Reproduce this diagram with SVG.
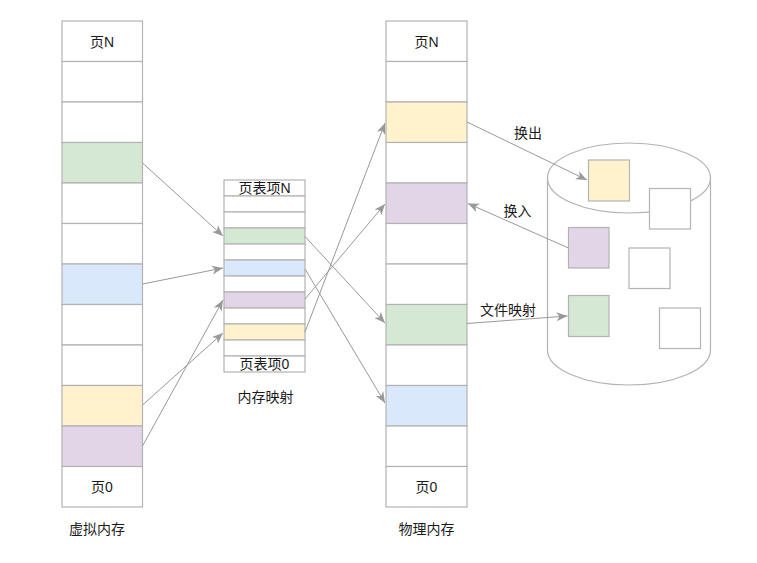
<svg xmlns="http://www.w3.org/2000/svg" width="757" height="563" viewBox="0 0 757 563">
<defs>
<style>
.c{stroke:#b3b3b3;stroke-width:1.2;fill:#ffffff}
.g{fill:#d5e8d4}
.b{fill:#dae8fc}
.y{fill:#fff2cc}
.p{fill:#e1d5e7}
.t{font-family:"Liberation Sans","Noto Sans CJK SC",sans-serif;font-size:14px;fill:#1a1a1a;text-anchor:middle;dominant-baseline:central}
.e{stroke:#999999;stroke-width:1;fill:none;marker-end:url(#ah)}
</style>
<marker id="ah" markerUnits="userSpaceOnUse" markerWidth="12" markerHeight="10" viewBox="0 0 12 10" refX="11" refY="5" orient="auto">
<path d="M0,0.5 L11,5 L0,9.5 L3,5 z" fill="#999999"/>
</marker>
</defs>
<rect width="757" height="563" fill="#ffffff"/>

<g id="virtual-memory">
<rect class="c" x="62" y="21" width="80.5" height="40.5"/>
<rect class="c" x="62" y="61.5" width="80.5" height="40.5"/>
<rect class="c" x="62" y="102" width="80.5" height="40.5"/>
<rect class="c g" x="62" y="142.5" width="80.5" height="40.5"/>
<rect class="c" x="62" y="183" width="80.5" height="40.5"/>
<rect class="c" x="62" y="223.5" width="80.5" height="40.5"/>
<rect class="c b" x="62" y="264" width="80.5" height="40.5"/>
<rect class="c" x="62" y="304.5" width="80.5" height="40.5"/>
<rect class="c" x="62" y="345" width="80.5" height="40.5"/>
<rect class="c y" x="62" y="385.5" width="80.5" height="40.5"/>
<rect class="c p" x="62" y="426" width="80.5" height="40.5"/>
<rect class="c" x="62" y="466.5" width="80.5" height="40.5"/>
<text class="t" x="102" y="41.5">页N</text>
<text class="t" x="102" y="487">页0</text>
<text class="t" x="97" y="529">虚拟内存</text>
</g>

<g id="page-table">
<rect class="c" x="224" y="180" width="81" height="16"/>
<rect class="c" x="224" y="196" width="81" height="16"/>
<rect class="c" x="224" y="212" width="81" height="16"/>
<rect class="c g" x="224" y="228" width="81" height="16"/>
<rect class="c" x="224" y="244" width="81" height="16"/>
<rect class="c b" x="224" y="260" width="81" height="16"/>
<rect class="c" x="224" y="276" width="81" height="16"/>
<rect class="c p" x="224" y="292" width="81" height="16"/>
<rect class="c" x="224" y="308" width="81" height="16"/>
<rect class="c y" x="224" y="324" width="81" height="16"/>
<rect class="c" x="224" y="340" width="81" height="16"/>
<rect class="c" x="224" y="356" width="81" height="16"/>
<text class="t" x="264.5" y="188">页表项N</text>
<text class="t" x="264.5" y="364">页表项0</text>
<text class="t" x="265.5" y="396.5">内存映射</text>
</g>

<g id="physical-memory">
<rect class="c" x="386" y="21" width="81" height="40.5"/>
<rect class="c" x="386" y="61.5" width="81" height="40.5"/>
<rect class="c y" x="386" y="102" width="81" height="40.5"/>
<rect class="c" x="386" y="142.5" width="81" height="40.5"/>
<rect class="c p" x="386" y="183" width="81" height="40.5"/>
<rect class="c" x="386" y="223.5" width="81" height="40.5"/>
<rect class="c" x="386" y="264" width="81" height="40.5"/>
<rect class="c g" x="386" y="304.5" width="81" height="40.5"/>
<rect class="c" x="386" y="345" width="81" height="40.5"/>
<rect class="c b" x="386" y="385.5" width="81" height="40.5"/>
<rect class="c" x="386" y="426" width="81" height="40.5"/>
<rect class="c" x="386" y="466.5" width="81" height="40.5"/>
<text class="t" x="426.5" y="41.5">页N</text>
<text class="t" x="426.5" y="487">页0</text>
<text class="t" x="426.5" y="529">物理内存</text>
</g>

<g id="disk">
<path class="c" d="M547.5,178 L547.5,350 A81.5,35 0 0 0 710.5,350 L710.5,178"/>
<ellipse class="c" cx="629" cy="178" rx="81.5" ry="35"/>
</g>
<g id="disk-yellow"><rect class="c y" x="588.5" y="160" width="41" height="41"/></g>
<g id="disk-white-1"><rect class="c" x="649.5" y="188.5" width="41" height="40.5"/></g>
<g id="disk-purple"><rect class="c p" x="568.5" y="227.5" width="40.5" height="40.5"/></g>
<g id="disk-white-2"><rect class="c" x="629" y="248" width="41" height="40.5"/></g>
<g id="disk-green"><rect class="c g" x="568.5" y="295.5" width="40.5" height="41"/></g>
<g id="disk-white-3"><rect class="c" x="659.5" y="308" width="41" height="40.5"/></g>

<g id="connectors">
<line class="e" x1="142.5" y1="163" x2="223" y2="236"/>
<line class="e" x1="142.5" y1="284" x2="223" y2="268"/>
<line class="e" x1="142.5" y1="405" x2="223" y2="333"/>
<line class="e" x1="142.5" y1="446" x2="223" y2="300"/>
<line class="e" x1="305" y1="236.5" x2="385" y2="323"/>
<line class="e" x1="305" y1="269" x2="385" y2="403"/>
<line class="e" x1="305" y1="299" x2="385" y2="204"/>
<line class="e" x1="305" y1="332" x2="385" y2="123"/>
<line class="e" x1="467" y1="122" x2="587" y2="180"/>
<line class="e" x1="568.5" y1="248" x2="468" y2="203.5"/>
<line class="e" x1="467" y1="323.5" x2="567.5" y2="316"/>
<text class="t" x="528" y="133">换出</text>
<text class="t" x="517.5" y="211">换入</text>
<text class="t" x="508" y="310">文件映射</text>
</g>
</svg>
